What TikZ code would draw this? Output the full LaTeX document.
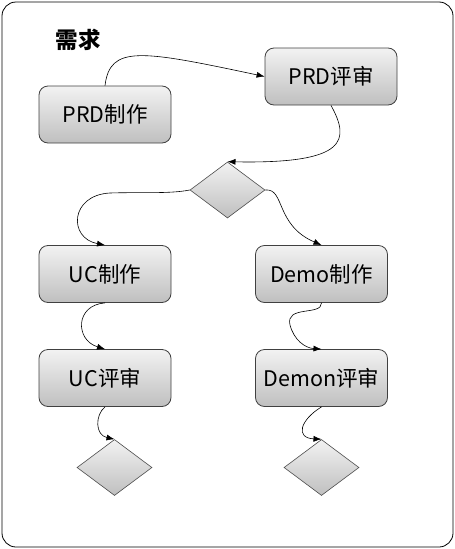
\documentclass[tikz,border=0pt]{standalone}
\usepackage{fontspec}
\setmainfont{Noto Sans CJK SC}
\usetikzlibrary{shapes.geometric,arrows.meta}
\begin{document}
\begin{tikzpicture}[x=1pt, y=-1pt,
        box/.style={rectangle, rounded corners=9pt, draw=black!75, line width=0.8pt, top color=white!95!black, bottom color=black!25, minimum width=132pt, minimum height=57pt, font=\fontsize{21.5}{25}\selectfont},
        gate/.style={diamond, draw=black!70, line width=0.6pt, top color=white!95!black, bottom color=black!25, minimum width=75pt, minimum height=56pt, aspect=1.34, inner sep=0pt},
        flow/.style={-{Latex[length=8pt,width=6pt]}, line width=0.6pt}
    ]
    \useasboundingbox (0,0) rectangle (455,549);
    \draw[rounded corners=14pt, line width=0.8pt] (2,2) rectangle (453,547);
    \node[font=\fontsize{22.5}{26}\selectfont\bfseries] (title) at (78,40) {需求};
    \node[box] (prdmake) at (105,114.5) {PRD制作};
    \node[box] (prdrev) at (331,76.5) {PRD评审};
    \node[gate] (check) at (227.5,190) {};
    \node[box] (ucmake) at (105,274) {UC制作};
    \node[box] (demomake) at (321.5,274) {Demo制作};
    \node[box] (ucrev) at (105,378) {UC评审};
    \node[box] (demorev) at (321.5,378) {Demon评审};
    \node[gate] (uccheck) at (114.5,467.5) {};
    \node[gate] (democheck) at (321.5,467.5) {};
    % connectors
    \draw[flow] (prdmake.north) .. controls (110,45) and (140,50) .. (prdrev.west);
    \draw[flow] (prdrev.south) .. controls (350,140) and (348,164) .. (check.north);
    \draw[flow] (check.west) .. controls (170,194) and (140,192) .. (110,193) .. controls (70,195) and (68,238) .. (ucmake.north);
    \draw[flow] (check.east) .. controls (285,188) and (275,225) .. (demomake.north);
    \draw[flow] (ucmake.south) .. controls (75,305) and (75,340) .. (ucrev.north);
    \draw[flow] (demomake.south) .. controls (322,316) and (285,305) .. (290,325) .. controls (294,340) and (305,348) .. (demorev.north);
    \draw[flow] (ucrev.south) .. controls (95,415) and (95,435) .. (uccheck.north);
    \draw[flow] (demorev.south) .. controls (300,420) and (295,438) .. (democheck.north);
\end{tikzpicture}
\end{document}
